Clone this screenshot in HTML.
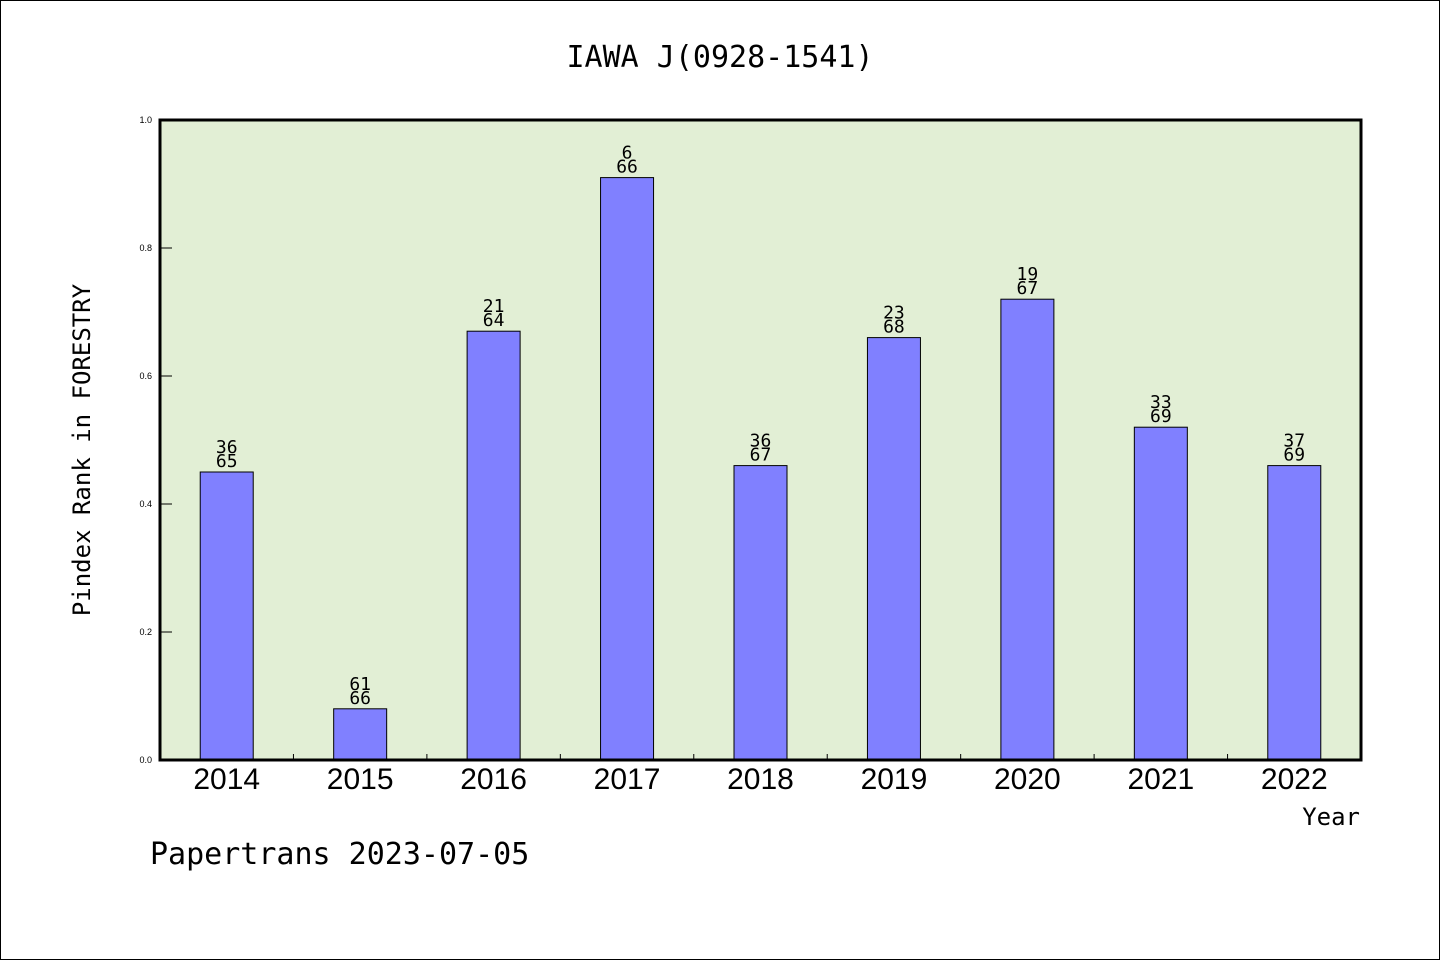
<!DOCTYPE html>
<html><head><meta charset="utf-8"><style>
body{margin:0;background:#fff}
svg{display:block}
</style></head><body>
<svg width="1440" height="960" xmlns="http://www.w3.org/2000/svg">
<rect x="0.5" y="0.5" width="1439" height="959" fill="#fff" stroke="#000"/>
<text x="720" y="67" text-anchor="middle" font-family="DejaVu Sans Mono, monospace" font-size="30">IAWA J(0928-1541)</text>
<rect x="160" y="120" width="1201" height="640" fill="#e2efd5"/>
<g id="bars"></g>
<rect x="160" y="120" width="1201" height="640" fill="none" stroke="#000" stroke-width="3"/>
<text transform="translate(90,450) rotate(-90)" text-anchor="middle" font-family="DejaVu Sans Mono, monospace" font-size="24">Pindex Rank in FORESTRY</text>
<text x="1360" y="825" text-anchor="end" font-family="DejaVu Sans Mono, monospace" font-size="24">Year</text>
<text x="150" y="864" font-family="DejaVu Sans Mono, monospace" font-size="30">Papertrans 2023-07-05</text>
</svg>
<script>
const categories=["2014","2015","2016","2017","2018","2019","2020","2021","2022"];
const values=[0.45,0.08,0.67,0.91,0.46,0.66,0.72,0.52,0.46];
const ranks=["36","61","21","6","36","23","19","33","37"];
const totals=["65","66","64","66","67","68","67","69","69"];
const yTicks=["0.0","0.2","0.4","0.6","0.8","1.0"];
const NS="http://www.w3.org/2000/svg";
const g=document.getElementById('bars');
const X0=160,X1=1361,Y0=760,Y1=120;
const step=(X1-X0)/categories.length;
const y=v=>Y0-(v)*(Y0-Y1);
const xc=i=>X0+step*(i+0.5);
function mk(t,a){const e=document.createElementNS(NS,t);for(const k in a)e.setAttribute(k,a[k]);g.appendChild(e);return e;}
yTicks.forEach(t=>{const yy=y(parseFloat(t));
const l=mk('line',{x1:X0,x2:X0+12,y1:yy,y2:yy,stroke:'#000'});


const tx=mk('text',{x:152,y:yy+3,'text-anchor':'end','font-family':'Liberation Sans, sans-serif','font-size':'9'});tx.textContent=t;


});
for(let i=1;i<categories.length;i++){const xx=X0+step*i;
const l=mk('line',{x1:xx,x2:xx,y1:Y0,y2:Y0-6,stroke:'#000'});

}
categories.forEach((c,i)=>{
const bw=53,top=y(values[i]);
const r=mk('rect',{x:xc(i)-bw/2,y:top,width:bw,height:Y0-top,fill:'#8080ff',stroke:'#000','stroke-width':1});


const a=mk('text',{x:xc(i),y:top-19,'text-anchor':'middle','font-family':'DejaVu Sans Mono, monospace','font-size':'18'});a.textContent=ranks[i];


const b=mk('text',{x:xc(i),y:top-5,'text-anchor':'middle','font-family':'DejaVu Sans Mono, monospace','font-size':'18'});b.textContent=totals[i];


const t=mk('text',{x:xc(i),y:789,'text-anchor':'middle','font-family':'Liberation Sans, sans-serif','font-size':'30'});t.textContent=c;


});
</script>
</body></html>
